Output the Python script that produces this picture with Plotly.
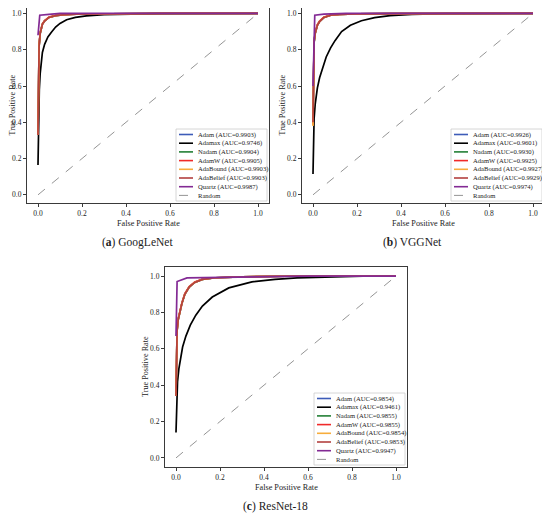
import plotly.graph_objects as go

# the page body adds an 8px margin, so the figure is laid out in page pixels
# and shifted by that offset
W, H = 550, 516
OFF = 8
FW, FH = W - OFF, H - OFF

NAMES = ["Adam", "Adamax", "Nadam", "AdamW", "AdaBound", "AdaBelief", "Quartz"]
COLORS = ["#3d5cb8", "#000000", "#237f35", "#f02a2a", "#f7ad3c", "#b3403f", "#832a94"]

# ---- (a) GoogLeNet ----
GOOG_AUC = [0.9903, 0.9746, 0.9904, 0.9905, 0.9903, 0.9903, 0.9987]
GOOG_FPR_MAX = [0, 0.003, 0.006, 0.01, 0.015, 0.02, 0.03, 0.045, 0.06, 0.08, 0.1, 0.13, 0.17, 0.22, 0.3, 0.4, 0.55, 1.0]
GOOG_TPR_MAX = [0.165, 0.45, 0.58, 0.67, 0.74, 0.785, 0.83, 0.87, 0.895, 0.925, 0.945, 0.965, 0.978, 0.987, 0.993, 0.997, 0.999, 1.0]
GOOG_FPR = [0, 0.002, 0.005, 0.01, 0.02, 0.03, 0.05, 0.08, 0.12, 0.2, 0.35, 0.6, 1.0]
GOOG_TPR_ADAM = [0.33, 0.72, 0.82, 0.89, 0.94, 0.958, 0.978, 0.988, 0.993, 0.997, 0.999, 1.0, 1.0]
GOOG_TPR_NADAM = [0.335, 0.722, 0.821, 0.891, 0.941, 0.959, 0.978, 0.988, 0.993, 0.997, 0.999, 1.0, 1.0]
GOOG_TPR_ADAMW = [0.33, 0.73, 0.828, 0.895, 0.943, 0.961, 0.98, 0.989, 0.994, 0.997, 0.999, 1.0, 1.0]
GOOG_TPR_BOUND = [0.33, 0.72, 0.82, 0.89, 0.94, 0.958, 0.978, 0.988, 0.993, 0.997, 0.999, 1.0, 1.0]
GOOG_TPR_BELIEF = [0.33, 0.72, 0.82, 0.89, 0.94, 0.958, 0.978, 0.988, 0.993, 0.997, 0.999, 1.0, 1.0]
GOOG_FPR_QZ = [0, 0.008, 0.05, 0.1, 1.0]
GOOG_TPR_QZ = [0.88, 0.99, 0.995, 1.0, 1.0]

# ---- (b) VGGNet ----
VGG_AUC = [0.9926, 0.9601, 0.9930, 0.9925, 0.9927, 0.9929, 0.9974]
VGG_FPR_MAX = [0, 0.002, 0.005, 0.01, 0.02, 0.03, 0.045, 0.06, 0.08, 0.1, 0.13, 0.17, 0.22, 0.28, 0.35, 0.45, 0.6, 1.0]
VGG_TPR_MAX = [0.115, 0.3, 0.42, 0.5, 0.59, 0.645, 0.71, 0.76, 0.81, 0.85, 0.9, 0.935, 0.96, 0.977, 0.988, 0.995, 0.999, 1.0]
VGG_FPR = [0, 0.002, 0.005, 0.01, 0.02, 0.03, 0.05, 0.08, 0.12, 0.2, 0.35, 1.0]
VGG_TPR_ADAM = [0.39, 0.78, 0.84, 0.89, 0.935, 0.955, 0.978, 0.99, 0.995, 0.998, 0.9995, 1.0]
VGG_TPR_NADAM = [0.39, 0.781, 0.841, 0.891, 0.936, 0.956, 0.978, 0.99, 0.995, 0.998, 0.9995, 1.0]
VGG_TPR_ADAMW = [0.385, 0.79, 0.848, 0.895, 0.939, 0.958, 0.98, 0.991, 0.995, 0.998, 0.9995, 1.0]
VGG_TPR_BOUND = [0.38, 0.78, 0.84, 0.89, 0.935, 0.955, 0.978, 0.99, 0.995, 0.998, 0.9995, 1.0]
VGG_TPR_BELIEF = [0.40, 0.78, 0.84, 0.89, 0.935, 0.955, 0.978, 0.99, 0.995, 0.998, 0.9995, 1.0]
VGG_FPR_QZ = [0, 0.008, 0.05, 0.15, 1.0]
VGG_TPR_QZ = [0.6, 0.99, 0.996, 1.0, 1.0]

# ---- (c) ResNet-18 ----
RES_AUC = [0.9854, 0.9461, 0.9855, 0.9855, 0.9854, 0.9853, 0.9947]
RES_FPR_MAX = [0, 0.003, 0.007, 0.013, 0.02, 0.03, 0.045, 0.065, 0.09, 0.12, 0.165, 0.24, 0.345, 0.45, 0.55, 0.7, 0.85, 1.0]
RES_TPR_MAX = [0.14, 0.33, 0.42, 0.49, 0.55, 0.61, 0.67, 0.73, 0.785, 0.835, 0.885, 0.935, 0.968, 0.982, 0.99, 0.996, 0.999, 1.0]
RES_FPR = [0, 0.002, 0.005, 0.01, 0.018, 0.027, 0.04, 0.06, 0.085, 0.12, 0.18, 0.3, 0.5, 1.0]
RES_TPR_ADAM = [0.34, 0.6, 0.7, 0.76, 0.81, 0.85, 0.9, 0.94, 0.965, 0.982, 0.991, 0.996, 0.999, 1.0]
RES_TPR_NADAM = [0.345, 0.601, 0.701, 0.761, 0.811, 0.851, 0.9, 0.94, 0.965, 0.982, 0.991, 0.996, 0.999, 1.0]
RES_TPR_ADAMW = [0.34, 0.61, 0.708, 0.766, 0.815, 0.854, 0.903, 0.942, 0.967, 0.983, 0.991, 0.996, 0.999, 1.0]
RES_TPR_BOUND = [0.34, 0.6, 0.7, 0.76, 0.81, 0.85, 0.9, 0.94, 0.965, 0.982, 0.991, 0.996, 0.999, 1.0]
RES_TPR_BELIEF = [0.34, 0.6, 0.7, 0.76, 0.81, 0.85, 0.9, 0.94, 0.965, 0.982, 0.991, 0.996, 0.999, 1.0]
RES_FPR_QZ = [0, 0.005, 0.05, 0.2, 0.6, 1.0]
RES_TPR_QZ = [0.67, 0.97, 0.99, 0.993, 1.0, 1.0]

TICKS = [0.0, 0.2, 0.4, 0.6, 0.8, 1.0]
TICK_TEXT = ["0.0", "0.2", "0.4", "0.6", "0.8", "1.0"]

panels = [
    dict(tag="a", title="GoogLeNet", auc=GOOG_AUC, left=27, right=269, top=8, bottom=203,
         curves=[(GOOG_FPR, GOOG_TPR_ADAM), (GOOG_FPR_MAX, GOOG_TPR_MAX), (GOOG_FPR, GOOG_TPR_NADAM),
                 (GOOG_FPR, GOOG_TPR_ADAMW), (GOOG_FPR, GOOG_TPR_BOUND), (GOOG_FPR, GOOG_TPR_BELIEF),
                 (GOOG_FPR_QZ, GOOG_TPR_QZ)]),
    dict(tag="b", title="VGGNet", auc=VGG_AUC, left=302, right=544, top=8, bottom=203,
         curves=[(VGG_FPR, VGG_TPR_ADAM), (VGG_FPR_MAX, VGG_TPR_MAX), (VGG_FPR, VGG_TPR_NADAM),
                 (VGG_FPR, VGG_TPR_ADAMW), (VGG_FPR, VGG_TPR_BOUND), (VGG_FPR, VGG_TPR_BELIEF),
                 (VGG_FPR_QZ, VGG_TPR_QZ)]),
    dict(tag="c", title="ResNet-18", auc=RES_AUC, left=165, right=407, top=267, bottom=467,
         curves=[(RES_FPR, RES_TPR_ADAM), (RES_FPR_MAX, RES_TPR_MAX), (RES_FPR, RES_TPR_NADAM),
                 (RES_FPR, RES_TPR_ADAMW), (RES_FPR, RES_TPR_BOUND), (RES_FPR, RES_TPR_BELIEF),
                 (RES_FPR_QZ, RES_TPR_QZ)]),
]

SERIF = "Liberation Serif"
clip = lambda v: min(1.0, max(0.0, v))
px = lambda v: (v - OFF) / FW
py = lambda v: 1 - (v - OFF) / FH


def label(text, x, y, size, **kw):
    d = dict(text=text, x=px(x), y=py(y), xref="paper", yref="paper", showarrow=False,
             xanchor="center", yanchor="middle", font=dict(family=SERIF, size=size, color="#222"))
    d.update(kw)
    return d


fig = go.Figure()
shapes, annotations = [], []

for i, p in enumerate(panels):
    sfx = "" if i == 0 else str(i + 1)
    xa, ya = "x" + sfx, "y" + sfx
    for name, color, (fx, ty) in zip(NAMES, COLORS, p["curves"]):
        fig.add_trace(go.Scatter(x=fx, y=ty, mode="lines", xaxis=xa, yaxis=ya, showlegend=False,
                                 line=dict(color=color, width=1.7)))
    fig.add_trace(go.Scatter(x=[0, 1], y=[0, 1], mode="lines", xaxis=xa, yaxis=ya, showlegend=False,
                             line=dict(color="#888888", width=0.9, dash="dash")))

    axis_common = dict(tickvals=TICKS, ticktext=TICK_TEXT, showgrid=False,
                       zeroline=False, showline=True, mirror=True, linecolor="#3a3a3a", linewidth=1.2,
                       ticks="outside", ticklen=3, tickwidth=0.8, tickcolor="#3a3a3a",
                       tickfont=dict(family=SERIF, size=7.5, color="#222"), automargin=False)
    fig.update_layout(**{
        "xaxis" + sfx: dict(domain=[clip(px(p["left"])), clip(px(p["right"]))], anchor=ya,
                            range=[-0.05, 1.05], **axis_common),
        "yaxis" + sfx: dict(domain=[clip(py(p["bottom"])), clip(py(p["top"]))], anchor=xa,
                            range=[-0.045, 1.03] if i < 2 else [-0.05, 1.05], **axis_common),
    })

    cx = (p["left"] + p["right"]) / 2
    cy = (p["top"] + p["bottom"]) / 2
    annotations.append(label("False Positive Rate", cx, p["bottom"] + 20, 8.2))
    annotations.append(label("True Positive Rate", max(p["left"] - 20, 12), cy, 8.2, textangle=-90))
    annotations.append(label("(<b>%s</b>) %s" % (p["tag"], p["title"]), p["left"] + 110,
                             p["bottom"] + 39, 11.5))

    # legend box drawn by hand (plotly's legend rows are too tall at this size)
    bx1, by1 = p["right"] - 2, p["bottom"] - 2
    bx0, by0 = bx1 - 91, by1 - 72
    shapes.append(dict(type="rect", xref="paper", yref="paper", x0=px(bx0), x1=px(bx1), y0=py(by0),
                       y1=py(by1), line=dict(color="#cccccc", width=0.8), fillcolor="white", layer="above"))
    labels = ["%s (AUC=%.4f)" % (n, a) for n, a in zip(NAMES, p["auc"])] + ["Random"]
    for k, lab in enumerate(labels):
        ry = by0 + 5.5 + 8.7 * k
        if k < len(NAMES):
            ln = dict(color=COLORS[k], width=1.6)
        else:
            ln = dict(color="#888888", width=0.9, dash="dash")
        shapes.append(dict(type="line", xref="paper", yref="paper", x0=px(bx0 + 3), x1=px(bx0 + 17),
                           y0=py(ry), y1=py(ry), line=ln, layer="above"))
        annotations.append(label(lab, bx0 + 20, ry, 6.6, xanchor="left"))

fig.update_layout(width=FW, height=FH, margin=dict(l=0, r=0, t=0, b=0), template="none",
                  paper_bgcolor="white", plot_bgcolor="white", showlegend=False,
                  shapes=shapes, annotations=annotations)

fig.write_html("out.html")
